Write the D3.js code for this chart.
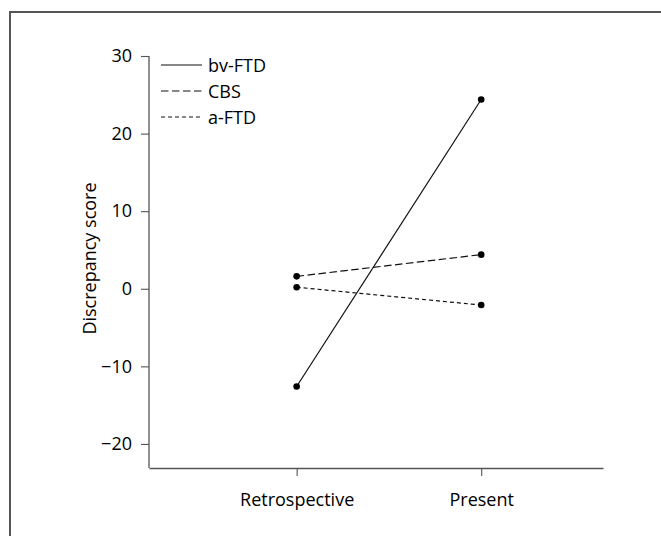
<!DOCTYPE html>
<html>
<head>
<meta charset="utf-8">
<script src="https://cdn.jsdelivr.net/npm/d3@7"></script>
<style>
  html, body { margin: 0; padding: 0; background: #fff; }
  svg { display: block; font-family: "Open Sans", sans-serif; }
</style>
</head>
<body>
<div id="chart"></div>
<script>
// data
var timepoints = ["Retrospective", "Present"];
var groups = ["bv-FTD", "CBS", "a-FTD"];
var bvFTD = [-12.6, 24.4];
var CBS = [1.6, 4.4];
var aFTD = [0.2, -2.1];
var yTicks = [-20, -10, 0, 10, 20, 30];

var width = 661, height = 536;
var margin = {left: 149, right: 58, top: 56, bottom: 68};
var fontSize = "18px";

var series = [
    {name: groups[0], values: bvFTD, dash: null},
    {name: groups[1], values: CBS, dash: "7.5,3.5"},
    {name: groups[2], values: aFTD, dash: "4,3"}
];

var svg = d3.select("#chart").append("svg")
    .attr("width", width)
    .attr("height", height);

// outer frame (only top and left show in the picture)
svg.append("rect")
    .attr("x", 10)
    .attr("y", 12)
    .attr("width", 700)
    .attr("height", 700)
    .attr("fill", "none")
    .attr("stroke", "#555")
    .attr("stroke-width", 2);

// categories sit at 1 and 2 on a linear x axis
var x = d3.scaleLinear()
    .domain([0.2, 2.66])
    .range([margin.left, width - margin.right]);

var y = d3.scaleLinear()
    .domain([-23.1, 30])
    .range([height - margin.bottom, margin.top]);

var yAxis = d3.axisLeft(y)
    .tickValues(yTicks)
    .tickSize(8)
    .tickPadding(9)
    .tickSizeOuter(0);

var xAxis = d3.axisBottom(x)
    .tickValues([1, 2])
    .tickFormat(function(d) { return timepoints[d - 1]; })
    .tickSize(8)
    .tickPadding(17)
    .tickSizeOuter(0);

var gy = svg.append("g")
    .attr("transform", "translate(" + margin.left + ",0)")
    .call(yAxis);

var gx = svg.append("g")
    .attr("transform", "translate(0," + (height - margin.bottom) + ")")
    .call(xAxis);

[gx, gy].forEach(function(g) {
    g.select(".domain").attr("stroke", "#555").attr("stroke-width", 1.3);
    g.selectAll(".tick line").attr("stroke", "#555").attr("stroke-width", 1.1);
    g.selectAll(".tick text")
        .attr("fill", "#000")
        .style("font-size", fontSize)
        .style("font-family", "'Open Sans', sans-serif");
});
// y domain starts at the 30 tick, not the scale top
gy.select(".domain").attr("d", "M0," + y(30) + "V" + y.range()[0]);

svg.append("text")
    .attr("transform", "translate(89," + y(3.9) + ") rotate(-90)")
    .attr("text-anchor", "middle")
    .attr("dominant-baseline", "central")
    .attr("fill", "#000")
    .style("font-size", fontSize)
    .text("Discrepancy score");

var line = d3.line()
    .x(function(d, i) { return x(i + 1); })
    .y(function(d) { return y(d); });

var g = svg.append("g");

g.selectAll("path.series")
    .data(series)
    .enter()
    .append("path")
    .attr("class", "series")
    .attr("d", function(d) { return line(d.values); })
    .attr("fill", "none")
    .attr("stroke", "#111")
    .attr("stroke-width", 1.2)
    .attr("stroke-dasharray", function(d) { return d.dash; });

series.forEach(function(s) {
    g.selectAll(null)
        .data(s.values)
        .enter()
        .append("circle")
        .attr("cx", function(d, i) { return x(i + 1); })
        .attr("cy", function(d) { return y(d); })
        .attr("r", 3.3)
        .attr("fill", "#000");
});

// legend
var legend = svg.append("g").attr("transform", "translate(161,65)");
var item = legend.selectAll("g")
    .data(series)
    .enter()
    .append("g")
    .attr("transform", function(d, i) { return "translate(0," + i * 26 + ")"; });

item.append("line")
    .attr("x1", 0)
    .attr("x2", 41)
    .attr("stroke", "#111")
    .attr("stroke-width", 1.2)
    .attr("stroke-dasharray", function(d) { return d.dash; });

item.append("text")
    .attr("x", 47)
    .attr("dominant-baseline", "central")
    .attr("fill", "#000")
    .style("font-size", fontSize)
    .text(function(d) { return d.name; });
</script>
</body>
</html>
